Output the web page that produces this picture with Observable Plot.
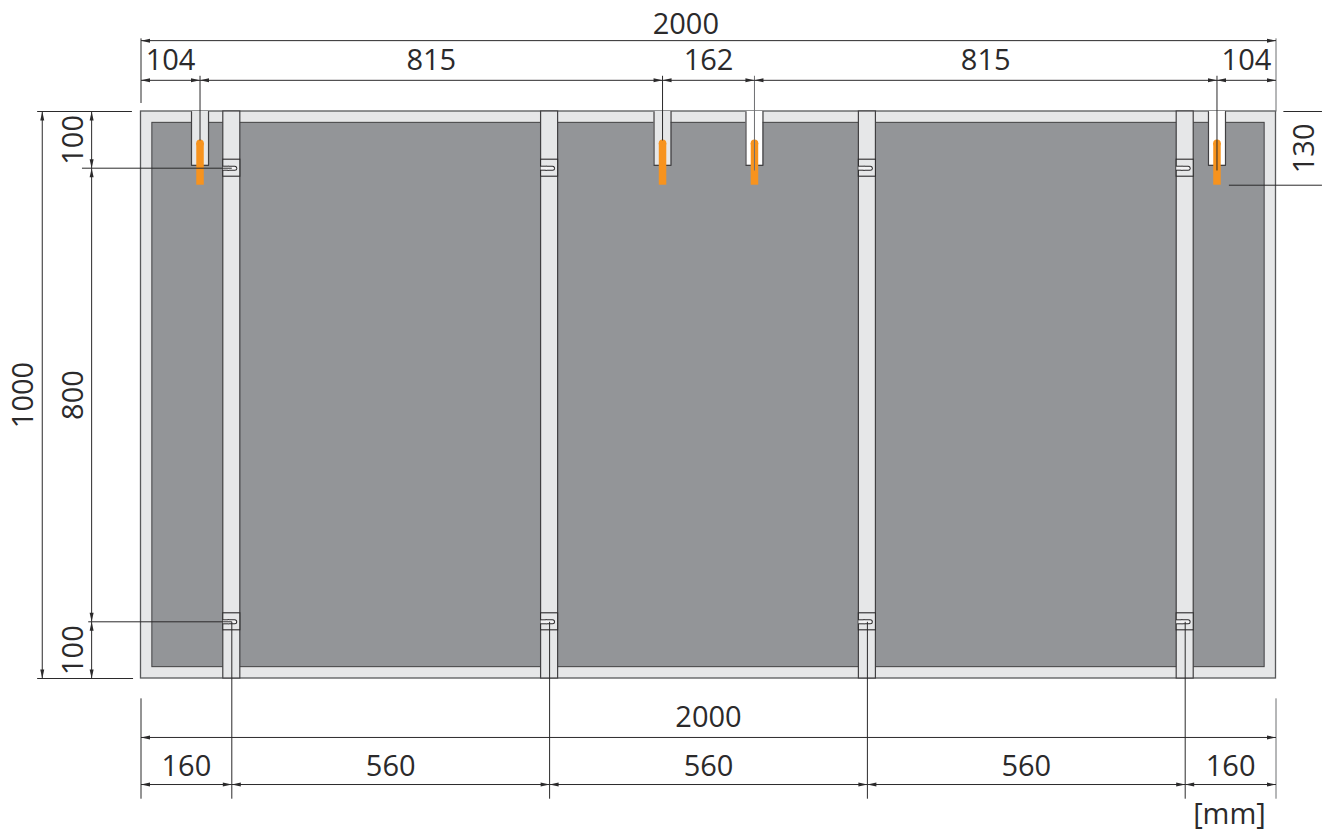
<!DOCTYPE html>
<html><head><meta charset="utf-8">
<style>html,body{margin:0;padding:0;background:#fff}svg{display:block}</style>
<script src="https://cdn.jsdelivr.net/npm/d3@7"></script>
<script src="https://cdn.jsdelivr.net/npm/@observablehq/plot@0.6"></script>
</head><body><div id="chart"></div>
<script>
// All values in millimetres
const panelWidth = 2000, panelHeight = 1000, borderWidth = 20;
const topChain = [104, 815, 162, 815, 104];
const bottomChain = [160, 560, 560, 560, 160];
const leftChain = [100, 800, 100];
const railWidth = 30;
const clipRows = [100, 900];
const notchDepth = 95;
const orangeTop = 50, orangeBottom = 130, orangeWidthPx = 7.5;
const rightDim = 130;

const topStops = [0, ...d3.cumsum(topChain)];
const bottomStops = [0, ...d3.cumsum(bottomChain)];
const leftStops = [0, ...d3.cumsum(leftChain)];
const railCenters = bottomStops.slice(1, -1);
const notchCenters = topStops.slice(1, -1);
const whiteNotch = [false, false, true, true];
const notchEnd = [51, 51, 104, 104];
const notchLeaderInk = ["#2b2a2b", "#2b2a2b", "#6d6e71", "#2b2a2b"];

// layout of the dimension lines, drawing millimetres outside the panel
const rowTop1 = -125, rowTop2 = -55, rowBot1 = 1104, rowBot2 = 1187;
const colL1 = -174, colL2 = -87;

const INK = "#2b2a2b", EDGE = "#58595b", LIGHT = "#e6e7e8", DARK = "#939598", ORANGE = "#f7931e";

const segs = [], arrows = [], labels = [];
const hDim = (a, b, y) => {
  segs.push({x1: a, x2: b, y1: y, y2: y});
  arrows.push({x: a, y, r: 90}, {x: b, y, r: -90});
};
const vDim = (a, b, x) => {
  segs.push({x1: x, x2: x, y1: a, y2: b});
  arrows.push({x, y: a, r: 180}, {x, y: b, r: 0});
};
hDim(0, panelWidth, rowTop1);
hDim(0, panelWidth, rowBot1);
d3.pairs(topStops).forEach(([a, b], i) => {
  hDim(a, b, rowTop2);
  labels.push({x: (a + b) / 2, y: -90, t: String(topChain[i])});
});
d3.pairs(bottomStops).forEach(([a, b], i) => {
  hDim(a, b, rowBot2);
  labels.push({x: (a + b) / 2, y: 1155, t: String(bottomChain[i])});
});
labels.push({x: 960, y: -153, t: String(panelWidth)});
labels.push({x: 1000, y: 1070, t: String(panelWidth)});
labels.push({x: 1918, y: 1240, t: "[mm]"});
vDim(0, panelHeight, colL1);
d3.pairs(leftStops).forEach(([a, b]) => vDim(a, b, colL2));

const vLabels = [
  {x: -206, y: 500, t: String(panelHeight)},
  ...d3.pairs(leftStops).map(([a, b], i) => ({x: -118, y: (a + b) / 2, t: String(leftChain[i])})),
  {x: 2051, y: rightDim / 2, t: String(rightDim)}
];

// extension and leader lines
const ext = [
  {x1: 0, x2: 0, y1: -129, y2: -15, ink: INK},
  {x1: panelWidth, x2: panelWidth, y1: -129, y2: 0, ink: "#6d6e71"},
  {x1: 0, x2: 0, y1: 1035, y2: 1212, ink: INK},
  {x1: panelWidth, x2: panelWidth, y1: 1035, y2: 1212, ink: "#6d6e71"},
  {x1: -183, x2: -16, y1: 0, y2: 0, ink: INK},
  {x1: -183, x2: -14, y1: panelHeight, y2: panelHeight, ink: INK},
  {x1: -104, x2: railCenters[0], y1: clipRows[0], y2: clipRows[0], ink: INK},
  {x1: -93, x2: railCenters[0], y1: clipRows[1], y2: clipRows[1], ink: INK},
  {x1: 2013, x2: 2081, y1: 0, y2: 0, ink: INK},
  {x1: 1917, x2: 2081, y1: orangeBottom, y2: orangeBottom, ink: INK},
  ...notchCenters.map((c, i) => ({x1: c, x2: c, y1: -63, y2: notchEnd[i], ink: notchLeaderInk[i]})),
  ...railCenters.map(c => ({x1: c, x2: c, y1: clipRows[1], y2: 1212, ink: INK}))
];

const clips = railCenters.flatMap(c => clipRows.map(y => ({c, y})));
const tipShape = {draw(ctx, l, r) { ctx.moveTo(0, 0); ctx.lineTo(r, -l); ctx.lineTo(-r, -l); ctx.closePath(); }};
const uPath = notchCenters.flatMap((c, i) => [
  {i, x: c - railWidth / 2, y: 0},
  {i, x: c - railWidth / 2, y: notchDepth},
  {i, x: c + railWidth / 2, y: notchDepth},
  {i, x: c + railWidth / 2, y: 0}
]);
const textOpts = {fontSize: 29, fill: INK, fontFamily: "'Open Sans', sans-serif"};
const slotL = d => d.c - railWidth / 2, slotM = d => d.c - 4, slotR = d => d.c + 6;

const plot = Plot.plot({
  width: 1322, height: 832, margin: 0,
  x: {domain: [0, panelWidth], range: [140.5, 1275.5], axis: null},
  y: {domain: [0, panelHeight], range: [111, 678], axis: null},
  style: {background: "#fff"},
  marks: [
    Plot.rect([{}], {x1: () => 0, x2: () => panelWidth, y1: () => 0, y2: () => panelHeight, fill: LIGHT, stroke: EDGE, strokeWidth: 1.3}),
    Plot.rect([{}], {x1: () => borderWidth, x2: () => panelWidth - borderWidth, y1: () => borderWidth, y2: () => panelHeight - borderWidth, fill: DARK, stroke: "#414042", strokeWidth: 1}),
    // notches
    Plot.rect(notchCenters, {x1: c => c - railWidth / 2, x2: c => c + railWidth / 2, y1: () => 0, y2: () => notchDepth,
      fill: (c, i) => whiteNotch[i] ? "#fff" : LIGHT}),
    Plot.line(uPath, {x: "x", y: "y", z: "i", stroke: "#414042", strokeWidth: 1.2}),
    // orange pins
    Plot.ruleX(notchCenters, {x: c => c, y1: () => orangeTop + 6, y2: () => orangeBottom, stroke: ORANGE, strokeWidth: orangeWidthPx}),
    Plot.dot(notchCenters, {x: c => c, y: () => orangeTop + 6, r: orangeWidthPx / 2, fill: ORANGE}),
    // rails
    Plot.rect(railCenters, {x1: c => c - railWidth / 2, x2: c => c + railWidth / 2, y1: () => 0, y2: () => panelHeight, fill: LIGHT, stroke: "#414042", strokeWidth: 1.2}),
    // clips with a slot open at the rail's edge
    Plot.rect(clips, {x1: d => d.c - railWidth / 2, x2: d => d.c + railWidth / 2, y1: d => d.y - 15, y2: d => d.y + 15, fill: LIGHT, stroke: INK, strokeWidth: 1.1}),
    Plot.ruleY(clips, {y: "y", x1: slotM, x2: slotR, stroke: INK, strokeWidth: 5, strokeLinecap: "round"}),
    Plot.ruleY(clips, {y: "y", x1: slotL, x2: slotM, stroke: INK, strokeWidth: 5}),
    Plot.ruleY(clips, {y: "y", x1: slotM, x2: slotR, stroke: "#f4f4f5", strokeWidth: 3, strokeLinecap: "round"}),
    Plot.ruleY(clips, {y: "y", x1: slotL, x2: slotM, stroke: "#f4f4f5", strokeWidth: 3}),
    // leaders, dimension lines, arrowheads
    Plot.link(ext, {x1: "x1", x2: "x2", y1: "y1", y2: "y2", stroke: "ink", strokeWidth: 1}),
    Plot.link(segs, {x1: "x1", x2: "x2", y1: "y1", y2: "y2", stroke: INK, strokeWidth: 1}),
    Plot.vector(arrows, {x: "x", y: "y", rotate: "r", length: 9, r: 2, anchor: "start", shape: tipShape, fill: INK, stroke: "none"}),
    // labels
    Plot.text(labels, {x: "x", y: "y", text: "t", ...textOpts}),
    Plot.text(vLabels, {x: "x", y: "y", text: "t", rotate: -90, ...textOpts})
  ]
});
document.getElementById("chart").append(plot);
</script></body></html>
